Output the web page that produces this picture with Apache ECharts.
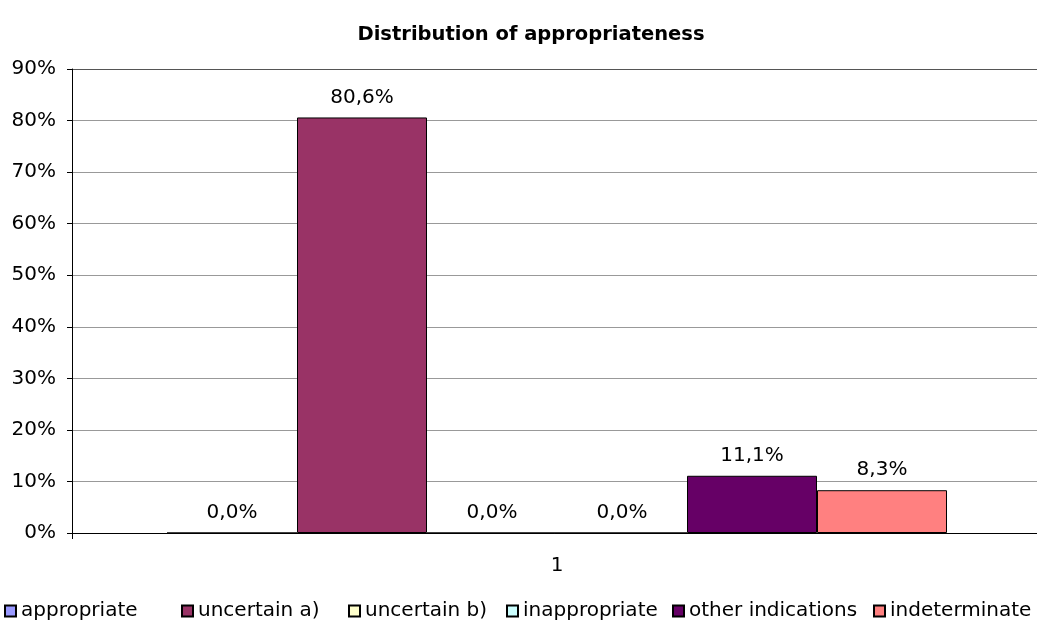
<!DOCTYPE html>
<html>
<head>
<meta charset="utf-8">
<script src="https://cdn.jsdelivr.net/npm/echarts@6/dist/echarts.min.js"></script>
<style>html,body{margin:0;padding:0;background:#fff}#c{width:1037px;height:635px}</style>
</head>
<body>
<div id="c"></div>
<script>
var categories = ['1'];
var seriesNames = ['appropriate', 'uncertain a)', 'uncertain b)', 'inappropriate', 'other indications', 'indeterminate'];
var seriesValues = [0, 80.6, 0, 0, 11.1, 8.3];
var seriesColors = ['#9999FF', '#993366', '#FFFFCC', '#CCFFFF', '#660066', '#FF8080'];
var yTicks = { min: 0, max: 90, interval: 10 };

var legendLefts = [4, 181, 348, 506, 672, 873];
var font = 'DejaVu Sans';
var chart = echarts.init(document.getElementById('c'));
var series = seriesNames.map(function (n, i) {
  return {
    name: n,
    type: 'bar',
    data: [seriesValues[i]],
    barGap: '0%',
    barWidth: 130,
    itemStyle: { color: seriesColors[i], borderColor: '#000', borderWidth: 1 },
    label: {
      show: true, position: 'top', distance: 10,
      fontFamily: font, fontSize: 20, color: '#000',
      formatter: function (p) { return p.value.toFixed(1).replace('.', ',') + '%'; }
    }
  };
});
var legends = seriesNames.map(function (n, i) {
  return {
    data: [n],
    left: legendLefts[i], top: 601, padding: 0,
    itemWidth: 11, itemHeight: 11,
    icon: 'rect',
    textStyle: { fontFamily: font, fontSize: 20, color: '#000' }
  };
});
chart.setOption({
  animation: false,
  backgroundColor: '#fff',
  title: {
    text: 'Distribution of appropriateness',
    left: 526, textAlign: 'center', top: 20,
    textStyle: { fontFamily: font, fontSize: 19.5, fontWeight: 'bold', color: '#000' }
  },
  legend: legends,
  grid: { left: 72, top: 69, width: 970, height: 464, containLabel: false, outerBoundsMode: 'none' },
  xAxis: {
    type: 'category', data: categories,
    axisLine: { lineStyle: { color: '#000', width: 1 } },
    axisTick: { show: true, length: 6, lineStyle: { color: '#000' } },
    axisLabel: { margin: 23, fontFamily: font, fontSize: 20, color: '#000' },
    splitLine: { show: false }
  },
  yAxis: {
    type: 'value', min: yTicks.min, max: yTicks.max, interval: yTicks.interval,
    axisLine: { show: true, lineStyle: { color: '#000', width: 1 } },
    axisTick: { show: true, length: 5, lineStyle: { color: '#000' } },
    axisLabel: { margin: 16, fontFamily: font, fontSize: 20, color: '#000', formatter: '{value}%' },
    splitLine: { show: true, lineStyle: { color: ['#999','#999','#999','#999','#999','#999','#999','#999','#999','#555'], width: 1 } }
  },
  series: series
});
</script>
</body>
</html>
